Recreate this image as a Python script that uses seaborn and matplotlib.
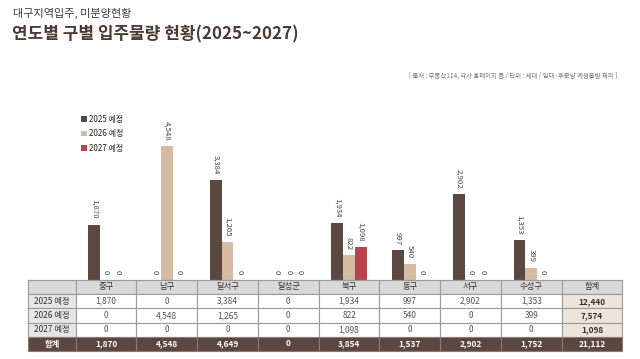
import numpy as np
import pandas as pd
import matplotlib
matplotlib.use('Agg')
import matplotlib.pyplot as plt
import seaborn as sns
from matplotlib.patches import Rectangle, Patch

districts = ['중구', '남구', '달서구', '달성군', '북구', '동구', '서구', '수성구']
series = ['2025 예정', '2026 예정', '2027 예정']
v2025 = [1870, 0, 3384, 0, 1934, 997, 2902, 1353]
v2026 = [0, 4548, 1265, 0, 822, 540, 0, 399]
v2027 = [0, 0, 0, 0, 1098, 0, 0, 0]
values = [v2025, v2026, v2027]
colors = ['#5b4841', '#d6bba3', '#b9434c']
total_label = '합계'

sns.set_theme(style='white')
plt.rcParams['font.family'] = ['Noto Sans CJK KR', 'DejaVu Sans']

df = pd.DataFrame({'구': districts * 3,
                   '구분': np.repeat(series, len(districts)),
                   '세대': v2025 + v2026 + v2027})

W, H = 640, 359
fig = plt.figure(figsize=(6.4, 3.59), dpi=100)
fig.patch.set_facecolor('white')


def fx(x):
    return x / W


def fy(y):
    return 1 - y / H


# layout in pixels
tx0, tx1 = 28, 75.7
colw = 60.75
tx_end = tx1 + colw * (len(districts) + 1)
base_y = 279.5

ax = fig.add_axes([fx(tx0), fy(base_y), fx(tx_end) - fx(tx0), fy(100) - fy(base_y)])
sns.barplot(data=df, x='구', y='세대', hue='구분', order=districts, hue_order=series,
            palette=colors, width=0.58, saturation=1, errorbar=None, linewidth=0,
            ax=ax, legend=False)
c0 = tx1 + colw / 2
ax.set_xlim((tx0 - c0) / colw, (tx_end - c0) / colw)
ax.set_ylim(0, 6121)
ax.set_xlabel('')
ax.set_ylabel('')
ax.set_xticks([])
ax.set_yticks([])
for s in ['top', 'left', 'right']:
    ax.spines[s].set_visible(False)
ax.spines['bottom'].set_color('#9a9a9a')
ax.spines['bottom'].set_linewidth(0.8)
ax.patch.set_alpha(0)

for cont, vals in zip(ax.containers, values):
    ax.bar_label(cont, labels=[f'{v:,}' for v in vals], rotation=270, padding=4,
                 fontsize=5.6, color='#444444')

handles = [Patch(facecolor=c, edgecolor='none') for c in colors]
fig.legend(handles, series, loc='upper left', bbox_to_anchor=(fx(81), fy(115)),
           frameon=False, fontsize=5.8, handlelength=0.7, handleheight=0.7,
           handletextpad=0.3, labelspacing=0.68, borderaxespad=0, borderpad=0)

# titles
fig.text(fx(13), fy(13), '대구지역입주, 미분양현황', fontsize=8, color='#3a3a3a', va='center')
fig.text(fx(12), fy(34), '연도별 구별 입주물량 현황(2025~2027)', fontsize=12.2, fontweight='bold',
         color='#4b3a33', va='center')
fig.text(fx(617), fy(76), '[ 출처 : 부동산114, 각사 홈페이지 등 / 단위 : 세대 / 임대·후분양 예정물량 제외 ]',
         ha='right', va='center', fontsize=4.6, color='#777777')

# table
tab = fig.add_axes([0, 0, 1, 1])
tab.set_xlim(0, W)
tab.set_ylim(H, 0)
tab.axis('off')
tab.patch.set_alpha(0)

row_edges = [base_y, 294, 308.3, 322.6, 337, 351]
col_edges = [tx0, tx1] + [tx1 + colw * (i + 1) for i in range(len(districts) + 1)]

header = [''] + districts + [total_label]
col_totals = [a + b + c for a, b, c in zip(v2025, v2026, v2027)]
rows = []
for name, vals in zip(series, values):
    rows.append([name] + [f'{v:,}' for v in vals] + [f'{sum(vals):,}'])
rows.append([total_label] + [f'{v:,}' for v in col_totals] + [f'{sum(col_totals):,}'])
all_rows = [header] + rows

ncols = len(col_edges) - 1
for r, rowvals in enumerate(all_rows):
    y0, y1 = row_edges[r], row_edges[r + 1]
    for c in range(ncols):
        x0, x1 = col_edges[c], col_edges[c + 1]
        is_total_row = r == len(all_rows) - 1
        if is_total_row:
            bg, fg, fw = '#5a4740', 'white', 'bold'
        elif r == 0:
            bg, fg, fw = '#d9d9d9', '#333333', 'normal'
        elif c == 0:
            bg, fg, fw = '#e6e6e6', '#333333', 'normal'
        elif c == ncols - 1:
            bg, fg, fw = '#efe4da', '#333333', 'bold'
        else:
            bg, fg, fw = 'white', '#555555', 'normal'
        ec = '#8a7a74' if is_total_row else '#9a9a9a'
        tab.add_patch(Rectangle((x0, y0), x1 - x0, y1 - y0, facecolor=bg,
                                edgecolor=ec, linewidth=0.8))
        tab.text((x0 + x1) / 2, (y0 + y1) / 2, rowvals[c], ha='center', va='center',
                 fontsize=6, color=fg, fontweight=fw)

fig.savefig('out.png', dpi=100)
